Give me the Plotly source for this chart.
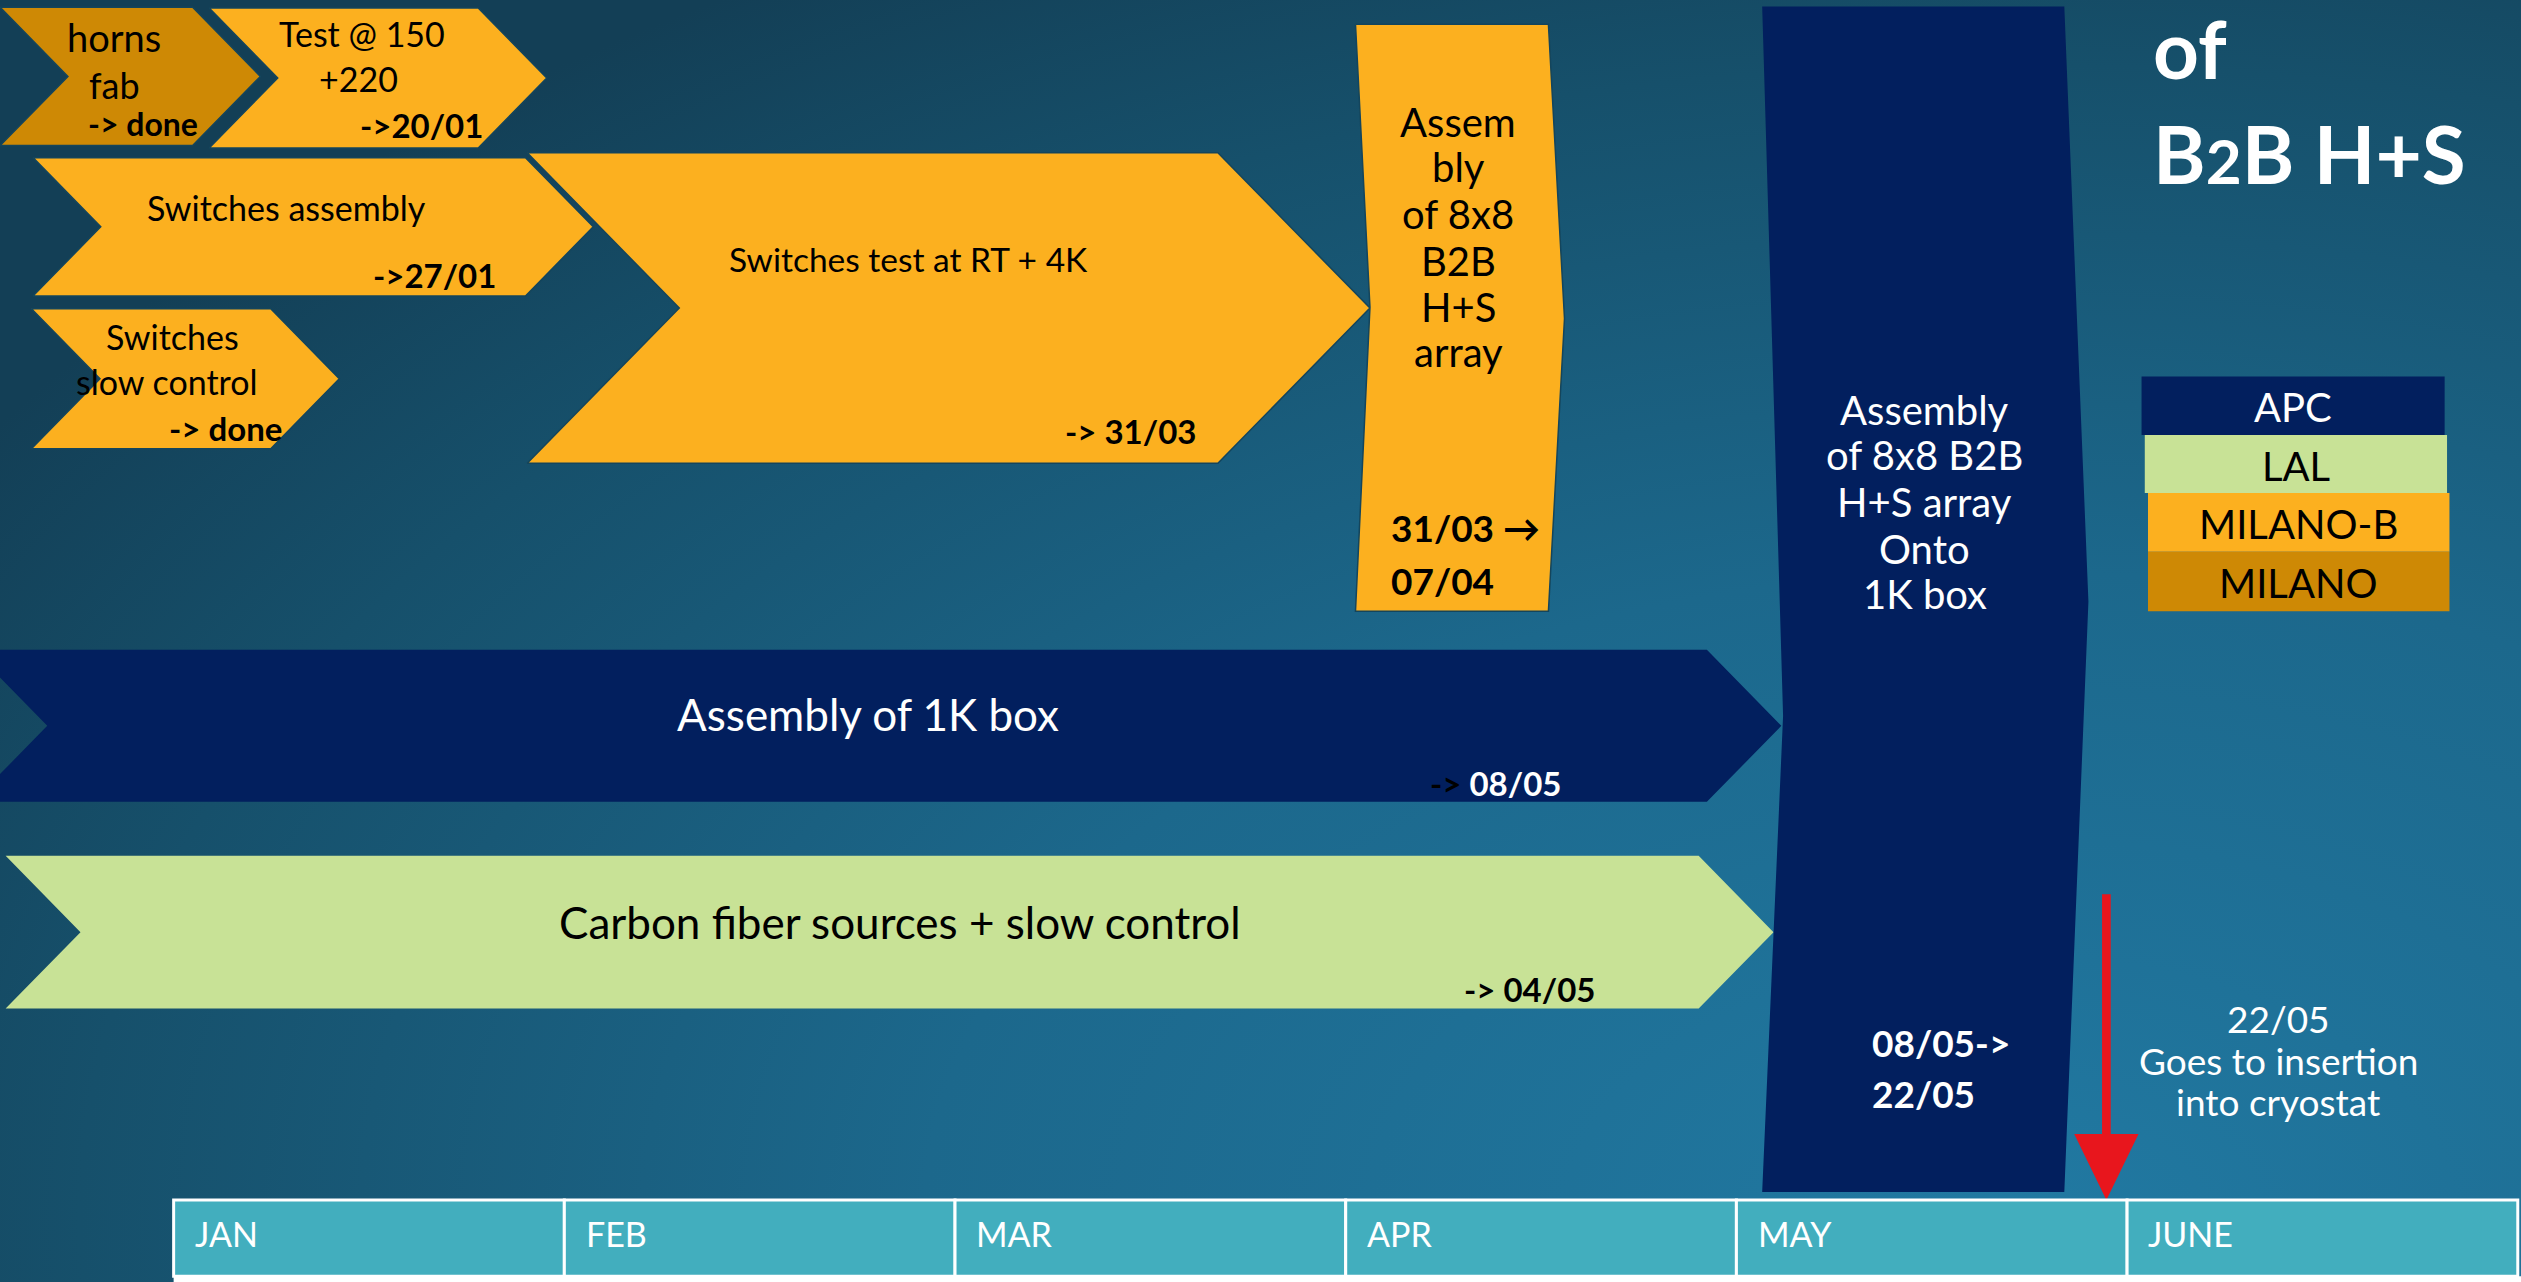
import plotly.graph_objects as go

# ---------------- data ----------------
months = ["JAN", "FEB", "MAR", "APR", "MAY", "JUNE"]

# tasks: start = left edge, end = arrow tip, in months counted from 1 January
task_names = ["horns fab", "Test @ 150 +220", "Switches assembly", "Switches slow control",
              "Switches test at RT + 4K", "Assembly of 8x8 B2B H+S array",
              "Assembly of 1K box", "Carbon fiber sources + slow control",
              "Assembly of 8x8 B2B H+S array Onto 1K box"]
task_start = [-0.444, 0.091, -0.360, -0.364, 0.905, 3.025, -0.514, -0.430, 4.066]
task_end = [0.222, 0.955, 1.074, 0.424, 3.062, 3.560, 4.115, 4.095, 4.901]
task_team = ["MILANO", "MILANO-B", "MILANO-B", "MILANO-B", "MILANO-B", "MILANO-B",
             "APC", "LAL", "APC"]

teams = ["APC", "LAL", "MILANO-B", "MILANO"]

milestone_x = 4.947          # 22/05 : goes to insertion into cryostat
milestone_text = ["22/05", "Goes to insertion", "into cryostat"]

# ---------------- style / layout ----------------
PXM = 243.0                   # layout px per month (y axis uses the same layout px)
X0 = -108 / PXM
X1 = (1568 - 108) / PXM


def px2m(p):
    return (p - 108) / PXM


team_color = {"APC": "#021f5e", "LAL": "#c8e296", "MILANO-B": "#fcb01f", "MILANO": "#ce8905"}
team_font = {"APC": "white", "LAL": "black", "MILANO-B": "black", "MILANO": "black"}

lanes = [(4.5, 90.5), (5, 92), (98, 184), (192, 279), (95, 288), (15, 380),
         (404, 498.5), (532, 627), (4, 741)]
# (notch depth, tip depth, notch y, tip y) ; None -> defaults
shape_style = [None, None, None, None, None, (9, 10, 191, 198), None, None, (13, 15, 445, 374)]

FONT = "Lato, 'Open Sans', sans-serif"

fig = go.Figure()

# background gradient
bx0, bx1 = px2m(1250 - 1500), px2m(1250 + 1500)
by0, by1 = 760 - 900, 760 + 900
fig.add_trace(go.Scatter(
    x=[bx0, bx1, bx1, bx0, bx0], y=[by0, by0, by1, by1, by0],
    mode="lines", fill="toself", line=dict(width=0),
    fillgradient=dict(type="radial",
                      colorscale=[[0, "#2179a2"], [0.45, "#1c688c"], [0.8, "#16506b"], [1, "#133f56"]]),
    hoverinfo="skip", showlegend=False))


def chevron(x0, x1, y0, y1, notch, tip, ny, ty):
    n = notch / PXM
    t = tip / PXM
    xs = [x0, x1 - t, x1, x1 - t, x0, x0 + n, x0]
    ys = [y0, y0, ty, y1, y1, ny, y0]
    return xs, ys


for i, name in enumerate(task_names):
    y0, y1 = lanes[i]
    st = shape_style[i]
    half = (y1 - y0) / 2
    if st is None:
        notch, tip, ny, ty = half * 0.98, half * 0.98, (y0 + y1) / 2, (y0 + y1) / 2
    else:
        notch, tip, ny, ty = st
    xs, ys = chevron(task_start[i], task_end[i], y0, y1, notch, tip, ny, ty)
    team = task_team[i]
    fig.add_trace(go.Scatter(
        x=xs, y=ys, mode="lines", fill="toself",
        fillcolor=team_color[team],
        line=dict(width=1.5 if team.startswith("MILANO") else 0, color="#14455c"),
        name=name, hoverinfo="name", showlegend=False))

# milestone red arrow
w = 2.7 / PXM
h = 20 / PXM
fig.add_trace(go.Scatter(
    x=[milestone_x - w, milestone_x + w, milestone_x + w, milestone_x + h, milestone_x,
       milestone_x - h, milestone_x - w, milestone_x - w],
    y=[556, 556, 705, 705, 746, 705, 705, 556],
    mode="lines", fill="toself", fillcolor="#e8161d", line=dict(width=0),
    hoverinfo="skip", showlegend=False))

shapes = []
annotations = []


def ann(text, xpx, y, size, color="black", bold=False, anchor="center"):
    if bold:
        text = "<b>" + text + "</b>"
    annotations.append(dict(
        text=text, x=px2m(xpx), y=y, xref="x", yref="y", showarrow=False,
        xanchor=anchor, yanchor="middle",
        font=dict(family=FONT, size=size, color=color)))


# month timeline cells
for i, m in enumerate(months):
    shapes.append(dict(type="rect", xref="x", yref="y", x0=i, x1=i + 1, y0=746, y1=793.5,
                       fillcolor="#42aebe", line=dict(color="white", width=3), layer="above"))
    annotations.append(dict(text=m, x=i + 12 / PXM, y=767, xref="x", yref="y", showarrow=False,
                            xanchor="left", yanchor="middle",
                            font=dict(family=FONT, size=34, color="white")))
shapes.append(dict(type="rect", xref="x", yref="y", x0=0, x1=X1 + 0.1, y0=793.5, y1=800,
                   fillcolor="white", line=dict(width=0), layer="above"))

# legend boxes
leg_rows = [(234, 270.5), (270.5, 306.5), (306.5, 343), (343, 380)]
leg_x = [(1332, 1520.5), (1334, 1522), (1336, 1523.5), (1336, 1523.5)]
for t, (ya, yb), (xa, xb) in zip(teams, leg_rows, leg_x):
    shapes.append(dict(type="rect", xref="x", yref="y", x0=px2m(xa), x1=px2m(xb), y0=ya, y1=yb,
                       fillcolor=team_color[t], line=dict(width=0), layer="above"))
    ann(t, (xa + xb) / 2, (ya + yb) / 2 + 1, 40, team_font[t])

# task texts
ann("horns", 71, 23, 38)
ann("fab", 71, 53, 36)
ann("-> done", 89, 77, 32, bold=True)
ann("Test @ 150", 225, 21, 34)
ann("+220", 223, 49, 34)
ann("->20/01", 262, 78, 33, bold=True)
ann("Switches assembly", 178, 129, 34)
ann("->27/01", 270, 171, 33, bold=True)
ann("Switches", 107, 209, 34)
ann("slow control", 104, 237, 34)
ann("-> done", 140, 266, 33, bold=True)
ann("Switches test at RT + 4K", 565, 161, 33.5)
ann("-> 31/03", 703, 268, 33, bold=True)

for txt, yy in zip(["Assem", "bly", "of 8x8", "B2B", "H+S", "array"], [76, 104, 133, 162, 191, 219]):
    ann(txt, 907, yy, 40)
ann("31/03 \u2192", 864, 328, 37, bold=True, anchor="left")
ann("07/04", 864, 361, 37, bold=True, anchor="left")

for txt, yy in zip(["Assembly", "of 8x8 B2B", "H+S array", "Onto", "1K box"], [255, 283, 312, 341, 369]):
    ann(txt, 1197, yy, 40, "white")
ann("08/05->", 1163, 648, 37, "white", bold=True, anchor="left")
ann("22/05", 1163, 680, 37, "white", bold=True, anchor="left")

ann("Assembly of 1K box", 540, 444, 44, "white")
ann('<span style="color:black">-></span> 08/05', 930, 487, 33, "white", bold=True)
ann("Carbon fiber sources + slow control", 560, 573, 44)
ann("-> 04/05", 951, 615, 33, bold=True)

for txt, yy in zip(milestone_text, [633, 659, 685]):
    ann(txt, 1417, yy, 37, "white")

# title fragment
ann("of", 1338, 30, 80, "white", bold=True, anchor="left")
ann('B<span style="font-size:62px">2</span>B H+S', 1338, 95, 80, "white", bold=True, anchor="left")

fig.update_layout(
    width=2521, height=1282, autosize=False,
    margin=dict(l=0, r=0, t=0, b=0, pad=0),
    paper_bgcolor="#14465e", plot_bgcolor="#14465e",
    xaxis=dict(range=[X0, X1], visible=False, fixedrange=True),
    yaxis=dict(range=[797, 0], visible=False, fixedrange=True),
    shapes=shapes, annotations=annotations, showlegend=False,
)

fig.write_html("out.html", config={"displayModeBar": False},
               post_script="document.body.style.margin='0';document.body.style.overflow='hidden';")
